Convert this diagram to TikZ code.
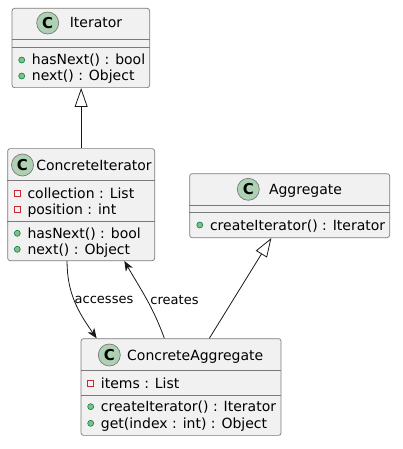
\documentclass[tikz,border=0pt]{standalone}
\usepackage{fontspec}
\setmainfont{DejaVu Sans}
\usetikzlibrary{arrows.meta}

\definecolor{clsfill}{HTML}{F1F1F1}
\definecolor{clsline}{HTML}{181818}
\definecolor{boxline}{HTML}{7A7A7A}
\definecolor{spotfill}{HTML}{ADD1B2}
\definecolor{pubfill}{HTML}{84BE84}
\definecolor{publine}{HTML}{038048}
\definecolor{privline}{HTML}{C82930}

\begin{document}
\begin{tikzpicture}[x=1pt, y=-1pt,
		cls/.style={draw=boxline, fill=clsfill, line width=0.7pt, rounded corners=2.5pt, anchor=north west, inner sep=0pt},
		spot/.style={circle, draw=boxline, fill=spotfill, line width=0.7pt, minimum size=22pt, inner sep=0pt, font=\fontsize{15}{15}\selectfont\bfseries},
		ttl/.style={anchor=base, inner sep=0pt, font=\fontsize{14}{16}\selectfont},
		mem/.style={anchor=base west, inner sep=0pt, font=\fontsize{14}{16}\selectfont},
		pub/.style={circle, draw=publine, fill=pubfill, line width=0.6pt, minimum size=6pt, inner sep=0pt},
		priv/.style={rectangle, draw=privline, line width=0.8pt, minimum size=6pt, inner sep=0pt},
		sep/.style={draw=boxline, line width=0.7pt},
		lbl/.style={inner sep=0pt, font=\fontsize{13}{15}\selectfont},
		inherit/.style={draw=clsline, line width=0.8pt, -{Triangle[open, length=19pt, width=13pt]}},
		assoc/.style={draw=clsline, line width=0.8pt, -{Stealth[length=10pt, width=8pt, inset=3pt]}}]
		\useasboundingbox (0,0) rectangle (403,449);
		
		% Iterator
		\node[cls, minimum width=137.6pt, minimum height=79.3pt](IT) at (11.7,8){};
		\draw[sep] ([yshift=-31.3pt]IT.north west) -- ([yshift=-31.3pt]IT.north east);
		\draw[sep] ([yshift=-39.7pt]IT.north west) -- ([yshift=-39.7pt]IT.north east);
		\node[spot](ITspot) at (47.7,23){C};
		\node[ttl](ITname) at (96,28){Iterator};
		\node[pub](ITi1) at (21.7,60){};
		\node[mem](ITm1) at (31.7,65){hasNext() : bool};
		\node[pub](ITi2) at (21.7,76){};
		\node[mem](ITm2) at (31.7,81){next() : Object};
		
		% ConcreteIterator
		\node[cls, minimum width=147pt, minimum height=112pt](CI) at (7.3,148.3){};
		\draw[sep] ([yshift=-32.4pt]CI.north west) -- ([yshift=-32.4pt]CI.north east);
		\draw[sep] ([yshift=-73pt]CI.north west) -- ([yshift=-73pt]CI.north east);
		\node[spot](CIspot) at (22.5,165){C};
		\node[ttl](CIname) at (94,170){ConcreteIterator};
		\node[priv](CIi1) at (17.3,193.3){};
		\node[mem](CIa1) at (27.3,198.3){collection : List};
		\node[priv](CIi2) at (17.3,209.3){};
		\node[mem](CIa2) at (27.3,214.3){position : int};
		\node[pub](CIi3) at (17.3,233.3){};
		\node[mem](CIm1) at (27.3,238.3){hasNext() : bool};
		\node[pub](CIi4) at (17.3,249.3){};
		\node[mem](CIm2) at (27.3,254.3){next() : Object};
		
		% Aggregate
		\node[cls, minimum width=200pt, minimum height=64pt](AG) at (189.3,173.3){};
		\draw[sep] ([yshift=-31.7pt]AG.north west) -- ([yshift=-31.7pt]AG.north east);
		\draw[sep] ([yshift=-39.4pt]AG.north west) -- ([yshift=-39.4pt]AG.north east);
		\node[spot](AGspot) at (248.3,189.3){C};
		\node[ttl](AGname) at (305.5,194.3){Aggregate};
		\node[pub](AGi1) at (199.8,225){};
		\node[mem](AGm1) at (209.8,230){createIterator() : Iterator};
		
		% ConcreteAggregate
		\node[cls, minimum width=200pt, minimum height=96.7pt](CA) at (80.7,338.3){};
		\draw[sep] ([yshift=-31.7pt]CA.north west) -- ([yshift=-31.7pt]CA.north east);
		\draw[sep] ([yshift=-56.7pt]CA.north west) -- ([yshift=-56.7pt]CA.north east);
		\node[spot](CAspot) at (109.3,355){C};
		\node[ttl](CAname) at (195.2,360){ConcreteAggregate};
		\node[priv](CAi1) at (90.7,383.3){};
		\node[mem](CAa1) at (100.7,388.3){items : List};
		\node[pub](CAi2) at (90.7,406.7){};
		\node[mem](CAm1) at (100.7,411.7){createIterator() : Iterator};
		\node[pub](CAi3) at (90.7,423.3){};
		\node[mem](CAm2) at (100.7,428.3){get(index : int) : Object};
		
		% relations
		\draw[inherit] (CI.north) -- (CI.north |- IT.south);
		\draw[inherit] ([xshift=28.3pt]CA.north) -- ([xshift=-18.3pt]AG.south);
		\draw[assoc] ([xshift=-14.1pt]CI.south) to[out=-90, in=125] ([xshift=-84.4pt]CA.north);
		\draw[assoc] ([xshift=-16.7pt]CA.north) to[out=110, in=-60] ([xshift=43.2pt]CI.south);
		
		\node[lbl](ACC) at (104,300){accesses};
		\node[lbl](CRE) at (174.5,300){creates};
\end{tikzpicture}
\end{document}
